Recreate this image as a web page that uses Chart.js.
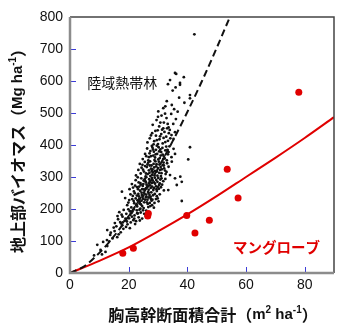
<!DOCTYPE html>
<html>
<head>
<meta charset="utf-8">
<script src="https://cdn.jsdelivr.net/npm/chart.js@4"></script>
<style>
  body { margin: 0; background: #fff; }
</style>
</head>
<body>
<canvas id="chart" width="350" height="327"></canvas>
<script>
const xTicks = [0, 20, 40, 60, 80];
const yTicks = [0, 100, 200, 300, 400, 500, 600, 700, 800];

const forestLabel = '陸域熱帯林';
const mangroveLabel = 'マングローブ';

// tropical forest plots: [basal area, biomass]
const forestPoints = [
  [8.2,55],[9.3,88],[10.4,72],[11.3,97],[12.1,66],[12.7,84],[13.4,99],[10.9,58],
  [12.6,103],[13.7,119],[14.5,108],[15.2,131],[12.7,134],[16.1,112],[14.9,142],[17.3,127],
  [15.8,146],[18.2,138],[16.6,121],[19.1,144],[13.9,126],[17.8,149],[20.4,140],
  [15.3,156],[16.4,168],[17.1,159],[17.9,176],[18.6,163],[19.2,185],[16.8,190],[20.1,171],
  [20.7,158],[21.3,192],[19.6,152],[18.3,197],[22.0,180],[21.6,165],[22.8,196],[20.9,187],
  [17.6,182],[23.4,174],[19.9,199],[24.1,189],[21.1,176],[18.9,170],[22.5,162],[16.2,178],
  [23.7,198],[25.3,185],[20.4,193],[24.6,170],[22.2,153],[19.4,161],[21.8,199],[26.0,195],
  [17.4,155],[23.1,186],[25.8,178],[20.5,182],[21.9,170],[22.9,187],[23.8,164],[24.9,196],
  [18.0,158],
  [18.8,234],[19.5,212],[20.2,228],[20.9,205],[21.4,241],[21.9,218],[22.4,233],[22.9,208],
  [23.3,247],[23.8,222],[24.2,214],[24.7,238],[25.1,203],[25.6,229],[26.0,245],[26.5,216],
  [26.9,236],[27.4,209],[27.8,226],[28.3,243],[28.8,219],[29.3,231],[20.6,246],[21.7,225],
  [22.6,211],[23.5,239],[24.4,226],[25.4,248],[26.2,221],[27.1,244],[28.0,212],[29.6,240],
  [30.2,224],[19.9,220],[24.9,232],[26.7,206],[23.0,227],[25.9,237],[22.1,249],[27.6,231],
  [24.0,201],[21.2,231],[28.6,204],[25.0,242],[26.4,229],[30.6,246],[23.7,217],[27.2,219],
  [22.8,242],[24.6,209],[22.7,215],[23.6,231],[24.5,244],[25.3,221],[26.1,238],[26.8,250],
  [27.5,238],[28.1,229],[28.9,247],[29.9,233],
  [17.7,254],[20.3,262],[21.1,278],[21.8,255],[22.4,290],[22.9,268],[23.4,283],[23.9,257],
  [24.3,296],[24.8,272],[25.2,261],[25.7,287],[26.1,276],[26.6,253],[27.0,293],[27.5,266],
  [27.9,281],[28.4,259],[28.9,298],[29.3,271],[29.8,285],[30.3,263],[30.8,292],[31.4,276],
  [32.0,258],[33.5,259],[22.2,273],[23.1,299],[24.0,281],[24.6,262],[25.5,294],[26.3,268],
  [26.9,280],[27.7,252],[28.2,289],[29.0,279],[29.6,256],[30.1,297],[31.0,268],[31.8,287],
  [25.0,278],[26.0,299],[27.3,274],[28.6,265],[24.4,251],[23.6,270],[30.6,280],[32.5,294],
  [21.5,267],[36.4,275],[38.1,285],[26.8,260],[29.4,291],[27.9,297],[25.9,283],[38.1,225],
  [23.2,262],[24.1,276],[25.1,289],[25.9,265],[26.7,272],[27.2,286],[28.0,270],[28.7,283],
  [29.5,262],[30.4,275],[31.2,296],[29.9,269],
  [22.5,305],[23.3,322],[24.1,311],[24.7,338],[25.2,317],[25.8,302],[26.2,331],[26.7,345],
  [27.1,313],[27.6,326],[28.0,307],[28.5,341],[28.9,319],[29.4,333],[29.8,304],[30.3,348],
  [30.7,322],[31.2,312],[31.6,337],[32.1,327],[32.6,309],[33.1,343],[34.1,306],[37.6,301],
  [25.5,347],[26.9,321],[27.8,336],[28.3,314],[29.1,349],[30.0,328],[31.0,303],[31.9,345],
  [24.4,329],[25.9,311],[27.4,303],[28.7,330],[29.6,317],[30.5,339],[32.4,320],[33.6,332],
  [26.4,339],[27.3,349],[23.8,341],[34.7,348],[28.1,324],[30.9,331],[35.8,296],
  [24.9,323],[25.6,334],[26.5,309],[27.2,336],[27.9,318],[28.8,305],[29.5,340],[30.4,313],
  [31.3,324],[32.0,336],[32.9,316],
  [24.8,356],[25.6,372],[26.3,389],[26.9,362],[27.4,381],[27.9,397],[28.4,367],[28.8,353],
  [29.3,385],[29.7,372],[30.2,393],[30.6,359],[31.1,378],[31.5,391],[32.0,364],[32.5,383],
  [33.0,352],[33.4,371],[33.9,396],[34.6,362],[35.3,388],[40.3,355],[40.9,393],[27.1,374],
  [28.1,392],[29.0,361],[30.4,380],[31.8,356],[32.8,395],[26.0,365],[28.6,379],[30.9,367],
  [33.2,385],[35.8,372],[29.6,398],[26.7,352],[27.6,365],[28.3,386],[29.2,371],[30.1,355],
  [30.8,386],[31.6,370],[32.3,358],[33.6,378],
  [26.4,408],[27.2,421],[28.0,437],[28.7,412],[29.3,429],[29.9,446],[30.5,418],[31.1,434],
  [31.6,405],[32.2,441],[32.8,426],[33.4,413],[34.0,447],[34.6,431],[35.3,419],[30.0,403],
  [31.9,422],[29.1,444],[33.7,437],[35.8,440],[27.6,430],[28.5,402],[29.6,415],[30.7,427],
  [31.4,448],[32.5,409],[33.1,452],[34.2,421],
  [28.2,463],[29.5,478],[30.4,458],[31.2,492],[32.0,470],[32.9,484],[33.6,455],[34.5,497],
  [35.2,466],[36.1,481],[30.0,488],[31.8,452],[30.8,470],[32.4,498],[33.3,466],
  [30.1,505],[31.8,515],[33.0,537],[34.7,525],[36.7,504],[37.2,548],[39.0,532],[40.9,556],
  [40.9,546],[35.5,512],[32.5,521],
  [34.1,603],[35.8,625],[36.2,622],[37.5,594],[37.5,588],[38.8,612],[36.0,580],[33.4,590],
  [35.0,570],
  [42.4,746]
];

// mangrove plots
const mangrovePoints = [
  [18.0,62],[21.6,77],[26.5,178],[26.7,186],[39.8,180],[42.6,125],[47.5,165],
  [53.6,324],[57.3,234],[78.0,565]
];

// fitted curves
const forestFit = [
  [0,0],[5,22],[10,63],[15,115],[20,178],[25,249],[30,327],[35,412],[40,503],[45,600],[50,703],[54.5,800]
];
const mangroveFit = [
  [0,0],[10,38],[20,80],[30,130],[40,183],[50,240],[60,300],[70,360],[80,422],[90,487]
];

const cjk = '"Noto Sans CJK JP"';
const latin = '"Liberation Sans", Arial, sans-serif';
const red = '#e00000';

function drawRich(ctx, parts, cx, cy, angle) {
  ctx.save();
  ctx.translate(cx, cy);
  ctx.rotate(angle);
  ctx.textBaseline = 'middle';
  ctx.textAlign = 'left';
  let w = 0;
  parts.forEach(p => { ctx.font = p.font; p.w = ctx.measureText(p.text).width; w += p.w; });
  let px = -w / 2;
  parts.forEach(p => {
    ctx.font = p.font;
    ctx.fillStyle = p.color || '#111';
    ctx.fillText(p.text, px, p.dy || 0);
    px += p.w;
  });
  ctx.restore();
}

const frame = {
  id: 'frame',
  afterDatasetsDraw(chart) {
    const { ctx, chartArea: a, scales: { x, y } } = chart;
    ctx.save();

    // short blue ticks pointing inward
    ctx.strokeStyle = '#3c3cd8';
    ctx.lineWidth = 1;
    yTicks.slice(1, -1).forEach(v => {
      const py = Math.round(y.getPixelForValue(v)) + 0.5;
      ctx.beginPath(); ctx.moveTo(a.left, py); ctx.lineTo(a.left + 6, py); ctx.stroke();
    });
    xTicks.slice(1).forEach(v => {
      const px = Math.round(x.getPixelForValue(v)) + 0.5;
      ctx.beginPath(); ctx.moveTo(px, a.bottom); ctx.lineTo(px, a.bottom - 6); ctx.stroke();
    });

    // plot box: dark top/right, grey axes
    ctx.strokeStyle = '#444';
    ctx.lineWidth = 1.5;
    ctx.beginPath(); ctx.moveTo(a.left, a.top); ctx.lineTo(a.right, a.top); ctx.lineTo(a.right, a.bottom); ctx.stroke();
    ctx.strokeStyle = '#8c8c8c';
    ctx.lineWidth = 2.5;
    ctx.beginPath(); ctx.moveTo(a.left, a.top); ctx.lineTo(a.left, a.bottom); ctx.lineTo(a.right, a.bottom); ctx.stroke();

    // series labels
    ctx.textAlign = 'center';
    ctx.textBaseline = 'middle';
    ctx.font = '14px ' + cjk;
    ctx.fillStyle = '#111';
    ctx.fillText(forestLabel, x.getPixelForValue(17.8), y.getPixelForValue(594));
    ctx.font = 'bold 14.5px ' + cjk;
    ctx.fillStyle = red;
    ctx.fillText(mangroveLabel, x.getPixelForValue(70.4), y.getPixelForValue(81));
    ctx.restore();

    // axis titles
    drawRich(ctx, [
      { text: '地上部バイオマス（', font: 'bold 16px ' + cjk },
      { text: 'Mg ha', font: 'bold 15px ' + latin },
      { text: '-1', font: 'bold 10px ' + latin, dy: -5 },
      { text: '）', font: 'bold 16px ' + cjk }
    ], 18, 147, -Math.PI / 2);
    drawRich(ctx, [
      { text: '胸高幹断面積合計（', font: 'bold 16px ' + cjk },
      { text: 'm', font: 'bold 15px ' + latin },
      { text: '2', font: 'bold 10px ' + latin, dy: -5 },
      { text: ' ha', font: 'bold 15px ' + latin },
      { text: '-1', font: 'bold 10px ' + latin, dy: -5 },
      { text: '）', font: 'bold 16px ' + cjk }
    ], 213, 315, 0);
  }
};

const toXY = arr => arr.map(([x, y]) => ({ x, y }));

new Chart(document.getElementById('chart'), {
  type: 'scatter',
  data: {
    datasets: [
      {
        data: toXY(forestFit), showLine: true, pointRadius: 0,
        borderColor: '#111', borderWidth: 2, borderDash: [7, 4],
        cubicInterpolationMode: 'monotone', order: 0
      },
      {
        data: toXY(mangroveFit), showLine: true, pointRadius: 0,
        borderColor: red, borderWidth: 2,
        cubicInterpolationMode: 'monotone', order: 1
      },
      {
        data: toXY(forestPoints), pointRadius: 1.4, pointBorderWidth: 0,
        backgroundColor: '#111', order: 2
      },
      {
        data: toXY(mangrovePoints), pointRadius: 3.5, pointBorderWidth: 0,
        backgroundColor: red, order: 0
      }
    ]
  },
  options: {
    responsive: false,
    animation: false,
    layout: { padding: { top: 17, right: 16, left: 0, bottom: 0 } },
    plugins: { legend: { display: false }, tooltip: { enabled: false } },
    scales: {
      x: {
        type: 'linear', min: 0, max: 90,
        afterBuildTicks: s => { s.ticks = xTicks.map(v => ({ value: v })); },
        afterFit: s => { s.height = 54; },
        grid: { display: false, drawTicks: false },
        border: { display: false },
        ticks: { font: { family: latin, size: 14 }, color: '#111', padding: 4 }
      },
      y: {
        min: 0, max: 800,
        afterBuildTicks: s => { s.ticks = yTicks.map(v => ({ value: v })); },
        afterFit: s => { s.width = 70; },
        grid: { display: false, drawTicks: false },
        border: { display: false },
        ticks: { font: { family: latin, size: 14 }, color: '#111', padding: 7 }
      }
    }
  },
  plugins: [frame]
});
</script>
</body>
</html>
